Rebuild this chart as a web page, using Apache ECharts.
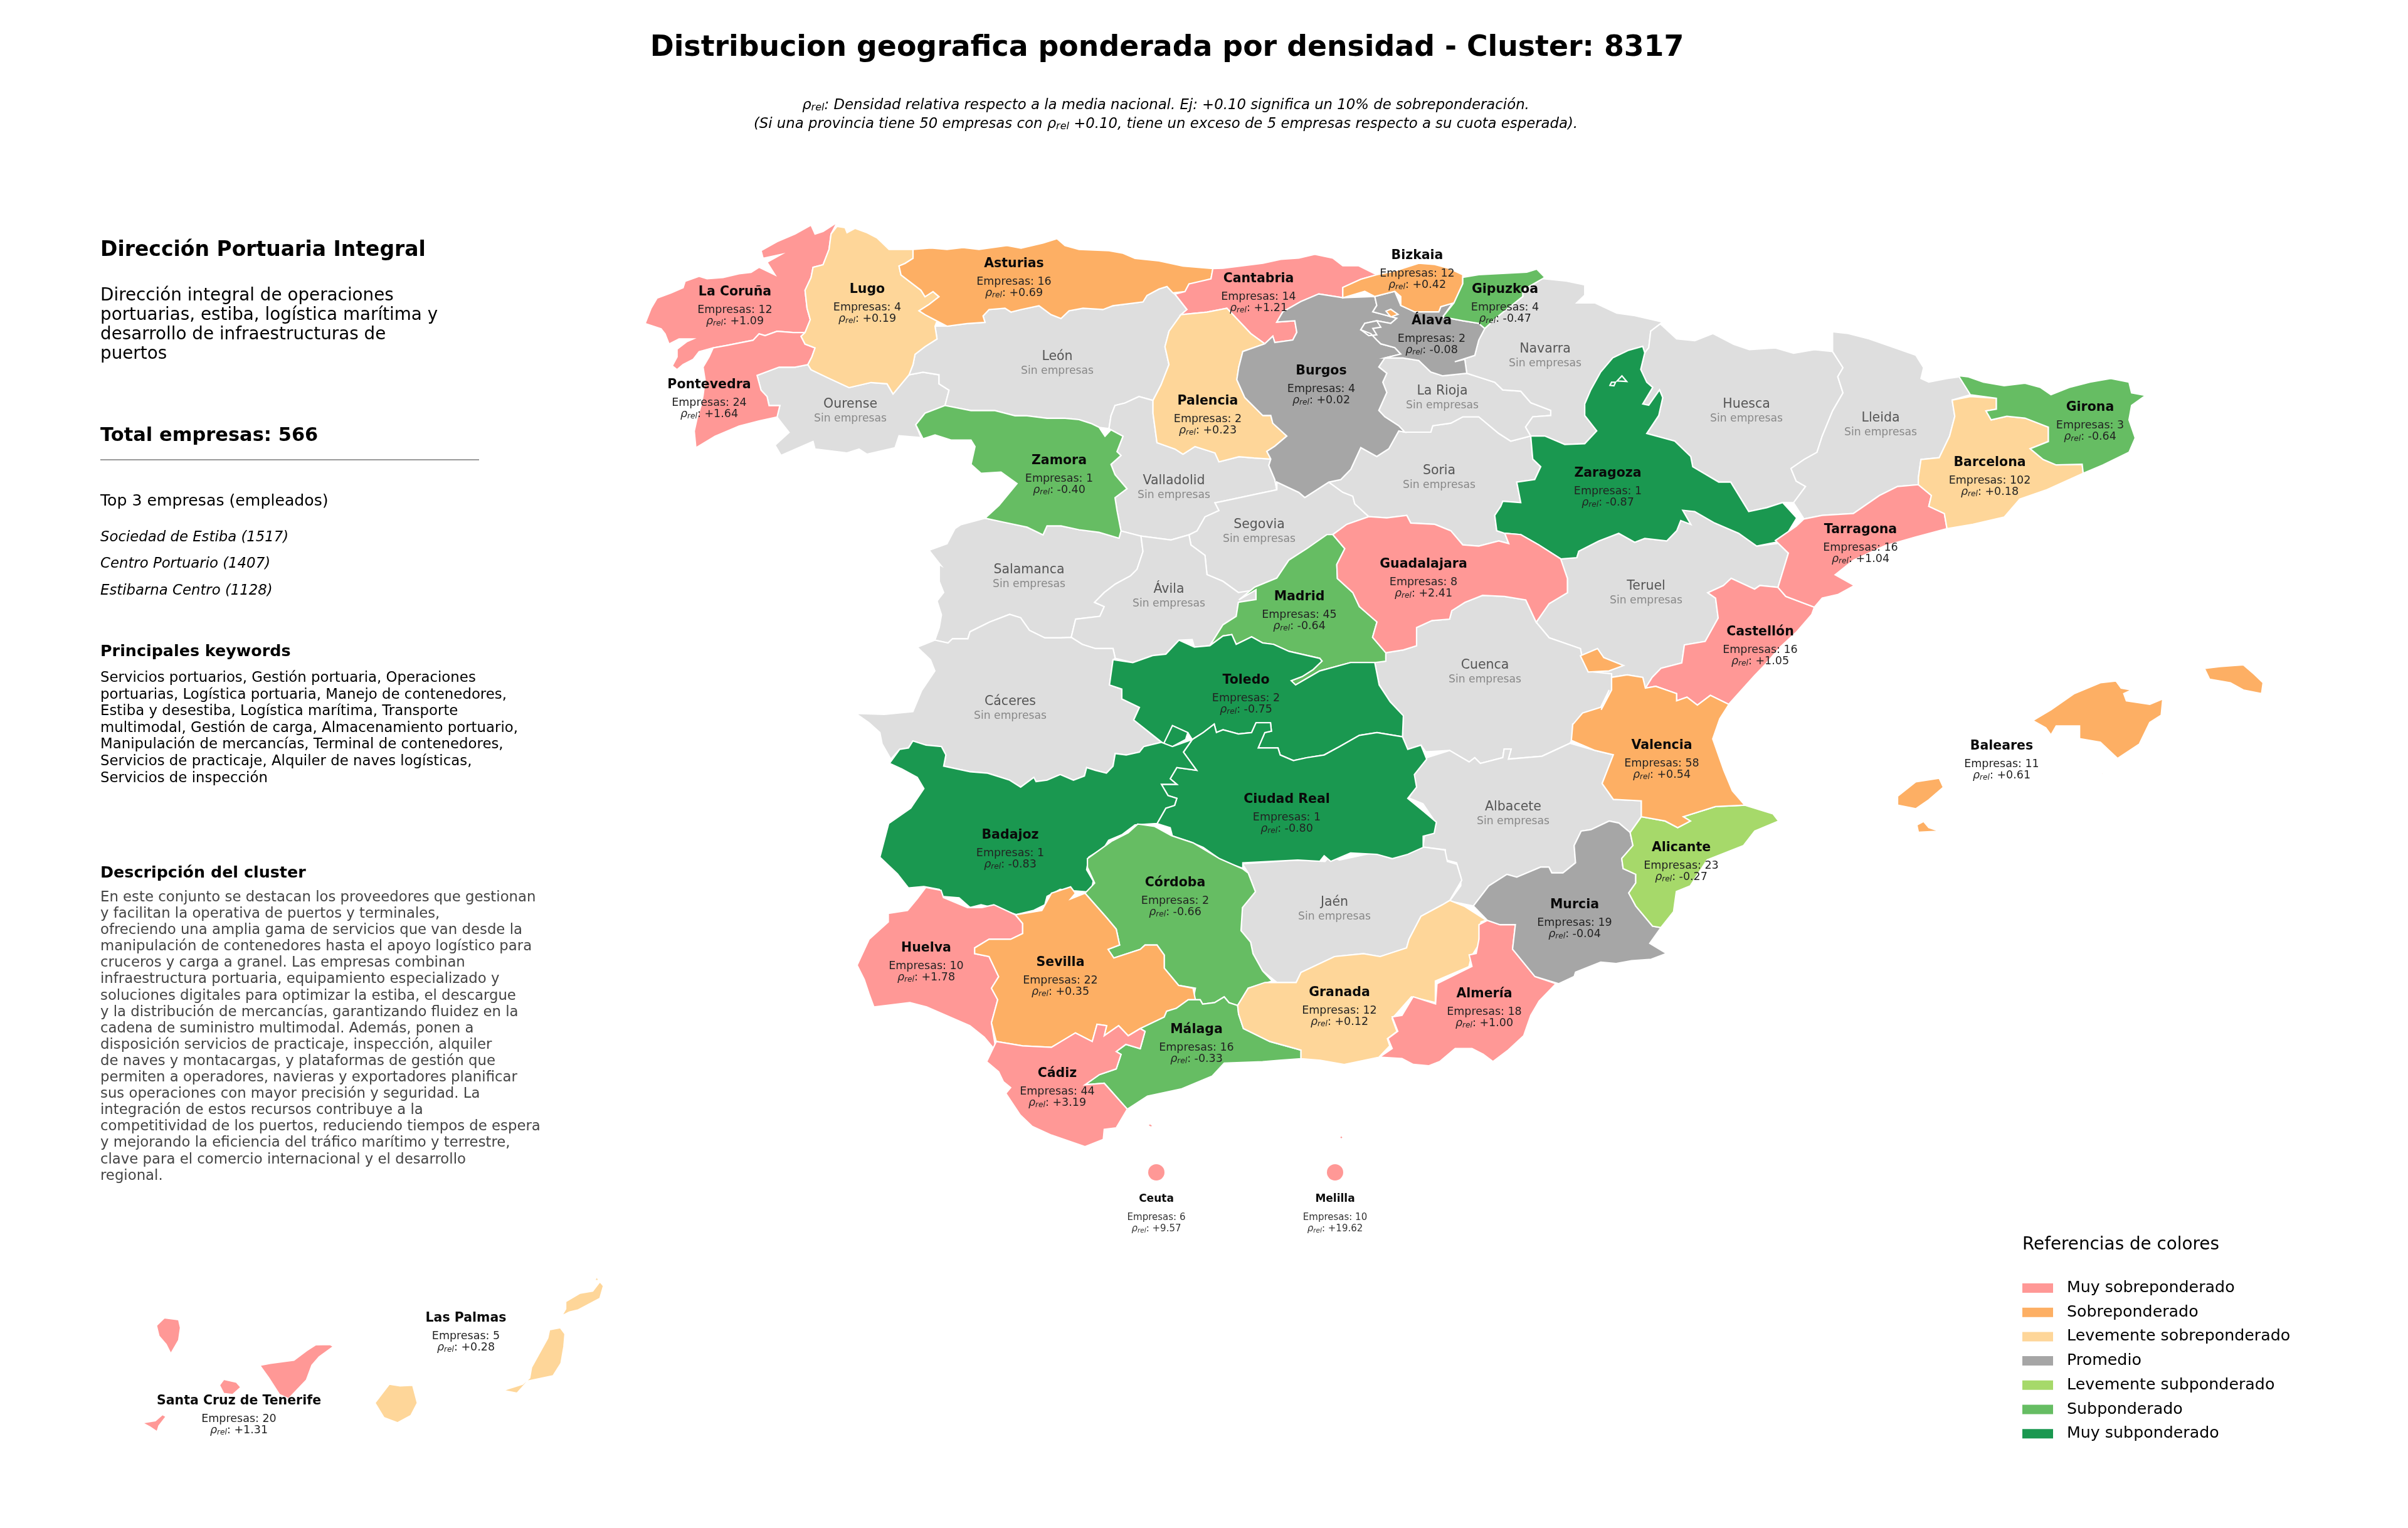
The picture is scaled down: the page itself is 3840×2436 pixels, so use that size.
<!DOCTYPE html>
<html><head><meta charset="utf-8">
<style>html,body{margin:0;padding:0;background:#fff}#c{width:3840px;height:2436px}</style>
<script src="https://cdn.jsdelivr.net/npm/echarts@6/dist/echarts.min.js"></script>
</head><body><div id="c"></div>
<script>
const FONT='"DejaVu Sans"';
// ---- data ----
const provinceNames=['La Coruña','Lugo','Asturias','Cantabria','Bizkaia','Gipuzkoa','Álava','Burgos','Palencia','Pontevedra','Zamora','Zaragoza','Girona','Barcelona','Tarragona','Castellón','Valencia','Alicante','Murcia','Almería','Granada','Málaga','Cádiz','Sevilla','Huelva','Córdoba','Badajoz','Ciudad Real','Toledo','Madrid','Guadalajara','Baleares','Las Palmas','Santa Cruz de Tenerife'];
const empresasValues=[12,4,16,14,12,4,2,4,2,24,1,1,3,102,16,16,58,23,19,18,12,16,44,22,10,2,1,1,2,45,8,11,5,20];
const rhoValues=[1.09,0.19,0.69,1.21,0.42,-0.47,-0.08,0.02,0.23,1.64,-0.40,-0.87,-0.64,0.18,1.04,1.05,0.54,-0.27,-0.04,1.00,0.12,-0.33,3.19,0.35,1.78,-0.66,-0.83,-0.80,-0.75,-0.64,2.41,0.61,0.28,1.31];
const labelAnchors=[[1172,466],[1383,462],[1617,421],[2007,445],[2260,408],[2400,462],[2283,512],[2107,592],[1926,640],[1131,614],[1689,735],[2564,755],[3333,650],[3173,738],[2967,845],[2807,1008],[2650,1189],[2681,1352],[2511,1443],[2367,1585],[2136,1583],[1908,1642],[1686,1712],[1691,1535],[1477,1512],[1874,1408],[1611,1332],[2052,1275],[1987,1085],[2072,952],[2270,900],[3192,1190],[743,2102],[381,2234]];
const emptyNames=['Ourense','León','Valladolid','Salamanca','Ávila','Segovia','Soria','La Rioja','Navarra','Huesca','Lleida','Teruel','Cuenca','Albacete','Jaén','Cáceres'];
const emptyAnchors=[[1356,645],[1686,569],[1872,767],[1641,909],[1864,940],[2008,837],[2295,751],[2300,624],[2464,557],[2785,645],[2999,667],[2625,935],[2368,1061],[2413,1287],[2128,1439],[1611,1119]];
const cityNames=['Ceuta','Melilla'];
const cityEmpresas=[6,10];
const cityRho=[9.57,19.62];
const cityDots=[[1844,1869],[2129,1869]];
const cityAnchors=[[1844,1911],[2129,1911]];
const tierLabels=['Muy sobreponderado','Sobreponderado','Levemente sobreponderado','Promedio','Levemente subponderado','Subponderado','Muy subponderado'];
const tierColors=['#FF9896','#FDAF64','#FED699','#A6A6A6','#A6D96A','#66BD63','#1A9850'];
const emptyColor='#DEDEDE';
const titleText='Distribucion geografica ponderada por densidad - Cluster: 8317';
const sideName='Dirección Portuaria Integral';
const sideIntro=['Dirección integral de operaciones','portuarias, estiba, logística marítima y','desarrollo de infraestructuras de','puertos'];
const sideTotal='Total empresas: 566';
const sideTopTitle='Top 3 empresas (empleados)';
const sideTop=['Sociedad de Estiba (1517)','Centro Portuario (1407)','Estibarna Centro (1128)'];
const sideKeywords=['Servicios portuarios, Gestión portuaria, Operaciones','portuarias, Logística portuaria, Manejo de contenedores,','Estiba y desestiba, Logística marítima, Transporte','multimodal, Gestión de carga, Almacenamiento portuario,','Manipulación de mercancías, Terminal de contenedores,','Servicios de practicaje, Alquiler de naves logísticas,','Servicios de inspección'];
const sideDesc=['En este conjunto se destacan los proveedores que gestionan','y facilitan la operativa de puertos y terminales,','ofreciendo una amplia gama de servicios que van desde la','manipulación de contenedores hasta el apoyo logístico para','cruceros y carga a granel. Las empresas combinan','infraestructura portuaria, equipamiento especializado y','soluciones digitales para optimizar la estiba, el descargue','y la distribución de mercancías, garantizando fluidez en la','cadena de suministro multimodal. Además, ponen a','disposición servicios de practicaje, inspección, alquiler','de naves y montacargas, y plataformas de gestión que','permiten a operadores, navieras y exportadores planificar','sus operaciones con mayor precisión y seguridad. La','integración de estos recursos contribuye a la','competitividad de los puertos, reduciendo tiempos de espera','y mejorando la eficiencia del tráfico marítimo y terrestre,','clave para el comercio internacional y el desarrollo','regional.'];

// ---- basemap: traced outlines, each vertex given in one of several tracing frames ----
const frames={1:[1000,320,1.568,2.45],2:[1950,340,1.568,2.45],3:[2400,480,1.206,1.742],4:[1340,900,1.4255,2.24],5:[1340,1300,1.3067,2.178],6:[2200,1100,2.24,2.178],7:[130,2000,1.742,3]};
const outlines={
'Ourense':['1|325,682 380,650 420,650 452,640 460,660 500,690 555,730 610,710 650,715 665,755 705,680 740,670 780,680 780,715 805,740 795,800 745,830 722,875 735,925 680,918 670,965 600,990 580,970 550,985 470,970 465,940 385,995 370,955 405,905 375,845 382,800 355,800 350,765 335,740'],
'León':['1|775,490 800,490 850,480 895,475 890,450 905,425 945,420 960,435 985,425 1030,410 1060,445 1085,460 1105,430 1140,420 1190,425 1215,410 1290,395 1300,370 1330,345 1350,335 1365,360 1370,365 1400,425 1385,445 1355,510 1345,570 1355,640 1335,720 1315,780 1280,765 1245,790 1220,800 1210,840 1205,890 1180,885 1160,870 1130,855 1095,850 1050,850 1000,840 970,840 920,820 860,820 795,800 805,740 780,715 780,680 740,670 705,680 715,640 720,600 745,570 775,540 770,490'],
'Valladolid':['1|1205,890 1210,840 1220,800 1245,790 1280,765 1315,780 1315,830 1325,945 1370,970 1390,990 1420,960 1470,985 1480,1020 1530,1000 1568,1005;2|120,960 115,985 130,1040 135,1080 90,1095 0,1125;1|1470,1180 1480,1210 1445,1235 1425,1290 1405,1305 1360,1325 1285,1310 1235,1290 1225,1210 1220,1160 1250,1125 1220,1070 1210,1030 1235,995 1225,980 1240,920 1210,895'],
'Segovia':['2|0,1125 90,1095 135,1080 135,1050 190,1090 205,1110 265,1050 300,1090 325,1105 330,1135 365,1185 310,1215 275,1255 210,1310 165,1355 135,1425 80,1460 40,1510;4|905,100 870,60;1|1450,1460 1445,1385 1410,1345 1405,1305 1425,1290 1445,1235 1480,1210 1470,1180'],
'Salamanca':['1|835,1265 895,1240 940,1255 1000,1275 1020,1290 1040,1305 1050,1270 1085,1270 1130,1285 1180,1295 1230,1318 1235,1290 1285,1310 1290,1370 1275,1440;4|660,40 625,70 600,100 578,135 600,150 590,185 535,195 525,260 500,262 465,262 430,235 410,190 385,178 340,205 295,240 290,265 255,265 245,280 215,270 225,225 230,180 220,130 235,100 225,60 225,0;1|785,1425 755,1365 800,1340 820,1280'],
'Ávila':['1|1285,1310 1360,1325 1405,1305 1410,1345 1445,1385 1450,1460;4|870,60 905,100 945,90 945,125 905,135 900,185 870,215 840,290 805,295 800,268 770,270 740,320 710,325 665,350 625,335 620,300 580,300 550,285 525,260 535,195 590,185 600,150 578,135 600,100 625,70 660,40;1|1275,1440 1290,1370'],
'Cáceres':['4|215,270 245,280 255,265 290,265 295,240 340,205 385,178 410,190 430,235 465,262 500,262 525,260 550,285 580,300 620,300 625,335 620,340 612,430 640,445 640,480 680,510 667,555 730,635 690,650 680,670 650,680 625,675 620,720 605,745 580,735 560,725 555,755 530,770 500,750 470,770 445,775 440,760 410,795 385,770 335,745 295,740 265,730 235,720 240,680 230,650 195,645 165,630 155,655 135,660 115,695 95,640 90,600 65,565 35,532 100,535 165,525 185,450 215,380 205,340 175,295'],
'Soria':['2|265,1050 295,1040 320,1000 345,915 385,950 415,920 440,850 455,855 520,855 525,830 570,820 600,795 640,795 690,860 720,890 770,870 775,960 795,990 780,1040 735,1050 745,1130 700,1125 695,1145 680,1180 685,1240 705,1250 715,1290 690,1280 640,1300 600,1295 570,1240 530,1215 470,1210 460,1180 410,1190 365,1185 330,1135 325,1105 300,1090'],
'La Rioja':['2|405,565 450,565 490,575 520,620 550,635 610,625 640,640 680,660 700,690 745,695 770,740 820,770 820,790 775,795 757,835 770,870 720,890 690,860 640,795 600,795 570,820 525,830 520,855 455,855 440,830 405,795 390,770 410,700 400,660 410,625 390,600'],
'Navarra':['2|800,255 860,265 905,280 905,320 885,350 930,350 985,390 1030,400 1100,425 1070,460 1065,525 1055,545 1050,520 1015,535 975,565 945,620 920,690 905,745 905,790 935,850 905,900 855,903 805,870 770,870 757,835 775,795 820,790 820,770 770,740 745,695 700,690 680,660 640,640 610,625 605,570 580,580 630,555 640,495 655,450 690,400 750,325 750,300'],
'Huesca':['2|1100,425 1070,460 1065,525 1055,545 1045,610 1060,660 1075,680 1050,745 1065,750 1092,690 1100,720 1090,790 1060,860 1130,890 1170,950 1175,990 1240,1050 1270,1050 1315,1165 1360,1150 1400,1130;3|555,560 578,515 560,500 550,465 575,440 600,420 610,375 630,305 650,255 640,210 650,185 630,140 595,135 555,145 520,130 470,135 440,120 400,90 365,110 330,105 300,65'],
'Lleida':['3|630,85 660,90 700,105 740,125 790,150 805,185 800,215 815,225 850,215 875,210 895,260 860,275 865,320 855,375 845,405 835,435 800,440 795,490 795,510 755,515 720,540 670,590 610,595 575,605 555,560 578,515 560,500 550,465 575,440 600,420 610,375 630,305 650,255 640,210 650,185 630,140'],
'Teruel':['2|845,1350 885,1345 890,1320 940,1280 990,1250 1030,1285 1055,1270 1110,1280 1135,1240 1145,1200 1170,1215 1150,1160 1180,1165 1230,1210 1290,1250 1335,1300 1385,1290;3|520,665 545,700 525,795 490,790 480,800 435,770 420,790 390,810 405,825 410,880 385,945 345,955 340,1005 300,1020 283,1045 270,1075 265,1045 235,1038 205,1045 205,1035 170,1030 150,1000 145,965 85,935 60,892 85,840 120,810 120,770 105,715'],
'Cuenca':['4|1240,315 1280,305 1310,290 1310,225 1345,200 1385,195 1390,165 1420,135 1460,110 1510,114;3|40,830 60,892 85,935 145,965 150,1000 170,1030 205,1035 205,1045 205,1080 185,1135 130,1175 130,1215;6|680,185 580,230 460,240 470,205 445,205 440,235 360,255 340,235 320,250 250,210 165,215;4|1320,645 1290,660 1278,615 1280,540 1250,490 1225,430 1215,350 1240,345'],
'Albacete':['6|168,235 250,210 320,250 340,235 360,255 440,235 445,205 470,205 460,240 580,230 680,185 770,210 835,225 795,325 835,380 935,385 935,440 895,495 855,462 820,455 755,485 720,490 695,540 700,600 655,635 615,635 605,615 575,615 490,650 455,640 390,680 335,750 250,733 290,680 290,650 275,600 235,590 235,555 155,545 160,510 200,460 155,395 105,375 130,330 120,295'],
'Jaén':['5|838,168 950,155 1010,160 1020,140 1040,155 1110,130 1150,150 1215,110 1260,120 1265,160 1285,170 1295,225 1270,295 1255,310 1210,350 1185,430 1180,460 1125,490 1090,480 1030,490 960,545 950,580 910,580 880,540 860,480 855,440 835,400 838,320 865,265 850,200'],
'La Coruña':['1|525,85 510,130 505,190 490,250 465,260 460,300 445,350 450,420 458,465 445,515 415,515 375,510 345,527 330,520 315,545 250,565 215,575 180,590 165,620 140,640 125,660 113,645 125,610 125,580 150,550 165,540 130,540 105,560 95,520 85,500 45,480 60,420 75,380 110,360 140,340 145,315 180,295 200,305 240,300 280,285 310,280 330,260 370,290 350,240 385,210 340,225 335,195 375,160 420,130 460,95 470,130 490,120'],
'Pontevedra':['1|445,515 435,530 445,560 470,575 462,610 452,640 420,650 380,650 325,682 335,740 350,765 355,800 382,800 375,845 330,860 280,880 220,920 172,965 168,900 175,850 185,800 190,760 195,700 190,650 205,610 215,575 250,565 315,545 330,520 345,527 375,510 415,515'],
'Lugo':['1|525,100 545,105 550,125 570,108 600,125 625,145 655,190 715,190 715,225 695,245 680,255 685,290 710,320 735,350 745,375 765,355 780,375 755,405 730,430 745,445 775,470 770,490 775,540 745,570 720,600 715,640 705,680 665,755 650,715 610,710 555,730 500,690 460,660 452,640 462,610 470,575 445,560 435,530 445,515 458,465 450,420 445,350 460,300 465,260 490,250 505,190 510,130'],
'Asturias':['1|715,190 760,185 800,190 840,183 880,190 950,175 985,185 1040,165 1075,148 1095,175 1130,190 1205,195 1240,205 1270,225 1330,235 1390,255 1465,265 1460,305 1430,320 1405,325 1395,355 1365,360 1350,335 1330,345 1300,370 1290,395 1215,410 1190,425 1140,420 1105,430 1085,460 1060,445 1030,410 985,425 960,435 945,420 905,425 890,450 895,475 850,480 800,490 775,470 745,445 730,430 755,405 780,375 765,355 745,375 735,350 710,320 685,290 680,255 695,245 715,225'],
'Cantabria':['2|-25,216 0,215 50,205 100,195 145,180 190,175 230,160 275,175 300,205 340,205 385,240 345,258 300,290 300,330 240,315 195,345 150,385 135,425 180,420 185,465 175,495 130,505 125,480 105,510 70,470 10,371;1|1450,435 1385,445 1400,425 1370,365 1395,355 1405,325 1460,305'],
'Palencia':['1|1385,445 1450,435 1500,420;2|70,470 105,510 50,540 40,600 35,650 55,720 100,790 120,790 125,820 160,870 130,910 110,930 120,960 78,956;1|1530,1000 1480,1020 1470,985 1420,960 1390,990 1370,970 1325,945 1315,830 1315,780 1335,720 1355,640 1345,570 1355,510'],
'Zamora':['1|795,800 860,820 920,820 970,840 1000,840 1050,850 1095,850 1130,855 1160,870 1180,885 1195,920 1210,895 1240,920 1225,980 1235,995 1210,1030 1220,1070 1250,1125 1220,1160 1225,1210 1235,1290 1230,1318 1180,1295 1130,1285 1085,1270 1050,1270 1040,1305 1020,1290 1000,1275 940,1255 895,1240 930,1190 975,1105 935,1060 885,1065 860,1030 870,960 860,935 810,935 770,915 740,930 722,875 745,830'],
'Burgos':['2|135,425 150,385 195,345 240,315 300,330 380,325 385,360 375,385 400,395 435,410 420,430 385,420 355,430 345,455 370,470 385,495 395,510 430,525 445,550 405,565 390,600 410,625 400,660 410,700 390,770 405,795 440,830 455,855 440,850 415,920 385,950 345,915 320,1000 295,1040 265,1050 205,1110 190,1090 135,1050 135,1080 130,1040 115,985 120,960 110,930 130,910 160,870 125,820 120,790 100,790 55,720 35,650 40,600 50,540 105,510 125,480 130,505 175,495 185,465 180,420'],
'Álava':['2|380,325 430,305 445,360 480,385 540,385 545,365 575,350 550,405 600,420 640,430 655,450 640,495 630,555 580,580 605,570 610,625 550,635 520,620 490,575 450,565 405,565 445,550 430,525 395,510 385,495 370,470 345,455 355,430 385,420 420,430 435,410 400,395 375,385 385,360','2|355,430 385,420 395,445 375,450 385,475 365,478 345,455'],
'Bizkaia':['2|300,290 345,258 385,240 430,225 490,195 530,200 565,215 600,240 600,275 578,350 545,365 540,385 480,385 445,360 445,325 430,305 380,325 355,305 300,330','2|408,382 420,375 438,395 420,405'],
'Gipuzkoa':['2|600,250 640,240 700,235 760,230 785,218 805,250 800,255 750,300 750,325 690,400 655,450 640,430 600,420 550,405 578,350 600,275'],
'Zaragoza':['2|770,870 805,870 855,903 905,900 935,850 905,790 905,745 920,690 945,620 975,565 1015,535 1050,520 1055,545 1045,610 1060,660 1075,680 1050,745 1065,750 1092,690 1100,720 1090,790 1060,860 1130,890 1170,950 1175,990 1240,1050 1270,1050 1315,1165 1360,1150 1400,1130 1435,1190 1400,1280 1335,1300 1290,1250 1230,1210 1180,1165 1150,1160 1170,1215 1145,1200 1135,1240 1110,1280 1055,1270 1030,1285 990,1250 940,1280 890,1320 885,1345 845,1350 790,1295 745,1255 705,1250 685,1240 680,1180 695,1145 700,1125 745,1130 735,1050 780,1040 795,990 775,960','2|986,655 998,635 1010,657','2|968,672 972,660 982,660 978,674'],
'Madrid':['2|260,1255 275,1255 305,1310 285,1372;4|1130,50 1165,100 1180,150 1220,205 1210,260 1240,315 1240,345 1215,350 1160,350 1090,380 1035,430 1025,415 1050,400 1075,375 1095,345 1090,335 1020,310 985,285 960,280 935,258 900,285 890,250 870,255 840,290 870,215 900,185 905,135 945,125 945,90;2|40,1510 80,1460 135,1425 165,1355 210,1310'],
'Guadalajara':['2|275,1255 310,1215 365,1185 410,1190 460,1180 470,1210 530,1215 570,1240 600,1295 640,1300 690,1280 715,1290 705,1250 745,1255 790,1295 845,1350;3|120,770 120,810 85,840 60,892 40,830;4|1510,114 1460,110 1420,135 1390,165 1385,195 1345,200 1310,225 1310,290 1280,305 1240,315 1210,260 1220,205 1180,150 1165,100 1130,50;2|285,1372 305,1310'],
'Toledo':['4|620,340 665,350 710,325 740,320 770,270 805,295 840,290 870,255 890,250 900,285 935,258 960,280 985,285 1020,310 1090,335 1095,345 1075,375 1050,400 1025,415 1035,430 1090,380 1160,350 1215,350 1225,430 1250,490 1280,540 1278,615 1220,600 1180,610 1135,650 1100,680 1060,690 1030,700 1000,680 995,655 950,655 965,600 980,595 978,565 945,565 935,600 905,605 870,590 855,600 850,570 825,600 800,625 790,600 755,575 735,640 667,555 680,510 640,480 640,445 612,430','4|735,640 755,575 790,600 785,625 755,650'],
'Ciudad Real':['4|800,625 825,600 850,570 855,600 870,590 905,605 935,600 945,565 978,565 980,595 965,600 950,655 995,655 1000,680 1030,700 1060,690 1100,680 1135,650 1180,610 1220,600 1278,615 1290,660 1320,645 1333,695 1305,750 1310,795 1290,835 1325,880 1355,920 1350,960 1325,970 1325,1010 1290,1035 1255,1050 1220,1035 1160,1030 1115,1060 1100,1040 1090,1060 1040,1055 915,1065 915,1085 870,1060 825,1010 795,990 755,970 750,940 720,925 740,870 760,860 765,835 745,825 730,785 765,785 750,765 765,725 810,735 780,670'],
'Badajoz':['4|165,630 195,645 230,650 240,680 235,720 265,730 295,740 335,745 385,770 410,795 440,760 445,775 470,770 500,750 530,770 555,755 560,725 580,735 605,745 620,720 625,675 650,680 680,670 690,650 730,635 755,650 800,625 780,670 810,735 765,725 750,765 765,785 730,785 745,825 765,835 760,860 740,870 720,925 670,930 640,965 610,985 600,1010 565,1045 560,1090 575,1130 570,1170 530,1165 500,1160 470,1185 465,1215 440,1235 400,1250 360,1230 320,1215 295,1225 270,1190 230,1185 225,1160 190,1150 155,1155 130,1105 90,1045 110,925 160,870 190,800 175,760 140,730 112,710 135,660 155,655'],
'Córdoba':['5|620,30 655,38 690,70 735,95 790,150 838,185 850,200 865,265 838,320 835,400 855,440 860,480 880,540 900,575 850,600 828,660 810,650 800,630 780,650 755,655 750,640 735,640 740,600 705,590 675,530 675,485 660,450 635,450 625,465 570,495 558,465 582,450 575,395 555,355 510,270 530,235 515,180 515,150 565,90 600,60'],
'Huelva':['5|178,250 210,260 215,285 265,320 295,320 320,310 365,345 380,375 380,410 355,430 310,430 280,460 280,480 310,490 330,560 315,600 328,640 315,720 325,820 300,770 270,730 180,665 145,650 70,665 60,620 50,570 35,520 60,430 100,370 100,340 140,330 160,290'],
'Sevilla':['5|365,345 420,330 440,270 480,248 490,270 480,290 510,270 555,355 575,395 582,450 558,465 570,495 625,465 635,450 660,450 675,485 675,530 705,590 735,600 740,640 725,640 700,670 680,680 675,700 625,740 600,765 580,730 550,765 555,730 535,725 525,785 490,755 440,805 380,800 325,785 315,720 328,640 315,600 330,560 310,490 280,480 280,460 310,430 355,430 380,410 380,375'],
'Málaga':['5|725,640 750,640 755,655 780,650 800,630 810,650 828,660 830,690 840,740 895,785 960,815 960,845 915,850 880,855 800,860 775,905 710,950 640,975 598,1020 550,930 510,935 540,900 575,880 585,830 575,820 595,795 625,810 635,750 625,740 675,700 680,680 700,670'],
'Cádiz':['5|325,785 380,800 440,805 490,755 525,785 535,725 555,730 550,765 580,730 600,765 625,740 635,750 625,810 595,795 575,820 585,830 575,880 540,900 510,935 550,930 598,1020 575,1085 550,1090 548,1125 510,1150 440,1110 400,1080 375,1040 345,965 355,945 340,925 330,890 305,855'],
'Granada':['5|828,660 850,600 885,580 950,580 960,545 1030,490 1090,480 1125,490 1180,460 1185,430 1210,350 1255,310 1270,295 1300,315 1346,364 1335,370 1330,450 1315,490 1310,525 1240,575 1240,650 1190,630 1150,705 1160,750 1140,775 1145,800 1122,840 1050,865 1000,850 960,845 960,815 895,785 840,740 830,690'],
'Almería':['6|385,800 430,815 485,815 475,900 555,995 630,1020 570,1080 540,1130 515,1200 460,1250 405,1290 370,1265 330,1245 270,1245 215,1290 175,1305 120,1300 80,1280 0,1275 45,1245 30,1210 65,1185 45,1135 80,1130 120,1065 200,1090 205,1020 330,960 320,920 345,915 355,865 355,815'],
'Murcia':['6|335,750 390,680 455,640 490,650 575,615 605,615 615,635 655,635 700,600 695,540 720,490 755,485 820,455 855,462 895,495 905,540 865,585 870,620 915,640 915,670 890,705 915,750 975,820 1005,825 965,880 1025,915 970,935 900,940 845,950 790,945 700,980 695,995 640,1020 555,995 475,900 485,815 430,815 385,800'],
'Alicante':['6|935,440 1020,455 1065,478 1110,455 1085,440 1200,405 1305,400 1405,430 1425,455 1340,490 1300,540 1170,590 1110,680 1060,700 1050,770 1005,825 975,820 915,750 890,705 915,670 915,640 870,620 865,585 905,540 895,495'],
'Castellón':['3|390,810 420,790 435,770 480,800 490,790 525,795 540,820 595,850 590,870 560,920 530,960 500,1010 480,1040 430,1120 395,1095 370,1122 350,1100 330,1110 330,1090 290,1070 270,1075 283,1045 300,1020 340,1005 345,955 385,945 410,880 405,825'],
'Valencia':['3|205,1045 235,1038 265,1045 270,1075 290,1070 330,1090 330,1110 350,1100 370,1122 395,1095;6|1248,50 1215,100 1190,170 1230,280 1260,350 1305,400 1200,405 1085,440 1110,455 1065,478 1020,455 935,440 935,385 835,380 795,325 835,225 770,210 685,175 690,120 725,80 790,60 820,0;3|185,1135 205,1080','3|145,985 178,965 190,990 228,1012 200,1027 160,1030'],
'Tarragona':['3|575,605 610,595 670,590 720,540 755,515 795,510 820,540 815,570 845,590 850,632 790,655 730,680 670,720 635,760 672,790 640,815 610,825 595,850 540,820 525,795 545,700 520,665 560,625'],
'Barcelona':['3|860,275 895,265 945,270 945,300 925,305 935,330 965,320 1000,325 1045,350 1045,390 1010,410 1035,440 1060,455 1110,453 1112,478 1040,525 990,550 960,600 900,620 850,632 845,590 815,570 820,540 795,510 795,490 800,440 835,435 845,405 855,375 865,320'],
'Girona':['3|872,207 890,210 920,225 960,235 1000,228 1030,240 1050,260 1085,240 1125,225 1165,215 1200,225 1205,255 1232,262 1205,290 1200,330 1212,380 1200,420 1150,455 1112,478 1110,453 1060,455 1035,440 1010,410 1045,390 1045,350 1000,325 965,320 935,330 925,305 945,300 945,270 895,260'],
'Baleares':['3|1015,1165 1050,1135 1095,1090 1145,1060 1175,1055 1185,1075 1205,1080 1190,1090 1195,1110 1240,1120 1265,1105 1262,1150 1240,1170 1220,1230 1178,1270 1145,1225 1105,1215 1105,1180 1060,1180 1050,1205 1040,1185','3|1345,1020 1375,1015 1420,1010 1440,1035 1458,1060 1455,1090 1420,1080 1395,1060 1355,1050','3|755,1375 790,1335 835,1325 843,1350 815,1385 790,1410 755,1400','3|792,1455 805,1445 815,1462 835,1472 795,1475','3|1145,1313 1150,1310 1152,1316'],
'Santa Cruz de Tenerife':['7|208,340 230,303 270,312 275,350 270,410 248,475 235,430 215,390','7|495,530 525,520 590,505 625,460 650,432 690,430 700,440 660,490 640,530 625,600 575,690 550,670 520,590','7|383,625 395,597 430,610 443,635 420,670 395,665','7|168,805 205,795 225,765 235,775 215,820 210,848 190,825'],
'Las Palmas':['7|815,710 855,620 885,628 920,625 933,710 915,770 878,805 840,780','7|1170,650 1225,620 1245,590 1250,540 1295,400 1300,360 1330,350 1343,380 1340,440 1332,520 1310,580 1240,605 1210,663','7|1333,295 1345,260 1345,225 1385,185 1420,175 1440,130 1450,150 1440,210 1380,265 1355,275','7|1425,125 1432,105 1437,125'],
'Ceuta':['5|640,1075 646,1070 653,1080 646,1082'],
'Melilla':['5|1040,1118 1044,1111 1048,1118 1044,1125']
};
function decode(path){
  const pts=[];
  path.split(';').forEach(seg=>{
    const [f,list]=seg.split('|');const F=frames[f];
    list.trim().split(/\s+/).forEach(s=>{
      const [x,y]=s.split(',').map(Number);
      pts.push([F[0]+x/F[2],2436-(F[1]+y/F[3])]);
    });
  });
  pts.push(pts[0].slice());
  return [pts];
}
const geoJson={type:'FeatureCollection',features:Object.keys(outlines).map(n=>({type:'Feature',properties:{name:n},geometry:{type:'MultiPolygon',coordinates:outlines[n].map(decode)}}))};
echarts.registerMap('esp',geoJson);

function tier(r){return r>=1?0:r>=0.3?1:r>=0.1?2:r>-0.1?3:r>-0.3?4:r>-0.7?5:6;}
function fmtRho(r){return (r>=0?'+':'')+r.toFixed(2);}
const g=a=>[a[0],2436-a[1]];

const regionColors=provinceNames.map((n,i)=>({name:n,itemStyle:{areaColor:tierColors[tier(rhoValues[i])]}}))
  .concat(emptyNames.map(n=>({name:n,itemStyle:{areaColor:emptyColor}})))
  .concat(cityNames.map((n,i)=>({name:n,itemStyle:{areaColor:tierColors[tier(cityRho[i])]}})));

const richMain={
  n:{fontFamily:FONT,fontWeight:'bold',fontSize:20.5,lineHeight:37.5,color:'#0a0a0a'},
  e:{fontFamily:FONT,fontSize:17.5,lineHeight:18.5,color:'#222'},
  r:{fontFamily:FONT,fontStyle:'italic',fontSize:17.5,lineHeight:18.5,color:'#222'},
  s:{fontFamily:FONT,fontStyle:'italic',fontSize:12.2,lineHeight:18.5,color:'#222',verticalAlign:'bottom'}
};
const richSmall={
  n:{fontFamily:FONT,fontWeight:'bold',fontSize:17,lineHeight:40,color:'#0a0a0a'},
  e:{fontFamily:FONT,fontSize:15,lineHeight:18,color:'#333'},
  r:{fontFamily:FONT,fontStyle:'italic',fontSize:15,lineHeight:18,color:'#333'},
  s:{fontFamily:FONT,fontStyle:'italic',fontSize:10.5,lineHeight:18,color:'#333',verticalAlign:'bottom'}
};
const richEmpty={
  n:{fontFamily:FONT,fontSize:20.5,lineHeight:28,color:'#555'},
  e:{fontFamily:FONT,fontSize:17.2,lineHeight:18,color:'#888'}
};
const lbl=(name,emp,r)=>`{n|${name}}\n{e|Empresas: ${emp}}\n{r|ρ}{s|rel}{e|: ${fmtRho(r)}}`;
const solid={opacity:1};

const series=[
 {type:'scatter',name:'Ciudades',coordinateSystem:'geo',silent:true,symbol:'circle',symbolSize:26,itemStyle:{color:tierColors[0],opacity:1},
  data:cityDots.map((d,i)=>({name:cityNames[i],value:g(d)}))},
 {type:'scatter',name:'EtiquetasActivas',coordinateSystem:'geo',silent:true,symbolSize:0,z:5,itemStyle:solid,
  data:provinceNames.map((n,i)=>{const a=labelAnchors[i];return {name:n,value:[a[0],2436-(a[1]+18.5)],label:{formatter:lbl(n,empresasValues[i],rhoValues[i])}};}),
  label:{show:true,position:'inside',align:'center',verticalAlign:'middle',rich:richMain}},
 {type:'scatter',name:'EtiquetasCiudades',coordinateSystem:'geo',silent:true,symbolSize:0,z:5,itemStyle:solid,
  data:cityNames.map((n,i)=>{const a=cityAnchors[i];return {name:n,value:[a[0],2436-(a[1]+19)],label:{formatter:lbl(n,cityEmpresas[i],cityRho[i])}};}),
  label:{show:true,position:'inside',align:'center',verticalAlign:'middle',rich:richSmall}},
 {type:'scatter',name:'EtiquetasVacias',coordinateSystem:'geo',silent:true,symbolSize:0,z:5,itemStyle:solid,
  data:emptyNames.map((n,i)=>{const a=emptyAnchors[i];return {name:n,value:[a[0],2436-(a[1]+9)],label:{formatter:`{n|${n}}\n{e|Sin empresas}`}};}),
  label:{show:true,position:'inside',align:'center',verticalAlign:'middle',rich:richEmpty}}
].concat(tierLabels.map((t,i)=>({type:'scatter',name:t,coordinateSystem:'geo',silent:true,data:[],itemStyle:{color:tierColors[i],opacity:1}})));

const T=(x,y,text,font,fill)=>({type:'text',silent:true,style:{x,y,text,font:font+' '+FONT,fill:fill||'#000',textAlign:'left',textVerticalAlign:'middle'}});
const els=[];
els.push(T(160,399,sideName,'bold 33px'));
sideIntro.forEach((t,i)=>els.push(T(160,472+i*31,t,'27.8px')));
els.push(T(160,695,sideTotal,'bold 30.5px'));
els.push({type:'line',silent:true,shape:{x1:160,y1:733,x2:764,y2:733},style:{stroke:'#999',lineWidth:2}});
els.push(T(160,799,sideTopTitle,'25.2px'));
sideTop.forEach((t,i)=>els.push(T(160,857+i*42.5,t,'italic 22.8px')));
els.push(T(160,1039,'Principales keywords','bold 25.4px'));
sideKeywords.forEach((t,i)=>els.push(T(160,1081+i*26.6,t,'22.85px')));
els.push(T(160,1392,'Descripción del cluster','bold 25.4px'));
sideDesc.forEach((t,i)=>els.push(T(160,1431+i*26.1,t,'22.8px','#444')));
els.push(T(3225,1985,'Referencias de colores','27.8px'));
const subRich={i:{font:'italic 22.8px '+FONT,color:'#000'},s:{font:'italic 16px '+FONT,color:'#000',verticalAlign:'bottom'}};
[['{i|ρ}{s|rel}{i|: Densidad relativa respecto a la media nacional. Ej: +0.10 significa un 10% de sobreponderación.}',168],
 ['{i|(Si una provincia tiene 50 empresas con ρ}{s|rel}{i| +0.10, tiene un exceso de 5 empresas respecto a su cuota esperada).}',198]].forEach(([t,y])=>{
  els.push({type:'text',silent:true,style:{x:1859,y,text:t,rich:subRich,textAlign:'center',textVerticalAlign:'middle',fill:'#000'}});
});

const chart=echarts.init(document.getElementById('c'),null,{renderer:'canvas',width:3840,height:2436,devicePixelRatio:1});
chart.setOption({
  animation:false,backgroundColor:'#fff',
  title:{text:titleText,left:1856,top:49,textAlign:'center',textStyle:{fontFamily:FONT,fontWeight:'bold',fontSize:45.8,color:'#000'}},
  legend:{data:tierLabels,orient:'vertical',left:3225,top:2041,padding:0,itemWidth:49,itemHeight:15,itemGap:13.7,icon:'rect',selectedMode:false,
    textStyle:{fontFamily:FONT,fontSize:25.3,color:'#000',padding:[0,0,0,17]}},
  tooltip:{show:false},
  geo:{map:'esp',boundingCoords:[[0,2436],[3840,0]],left:0,top:0,width:3840,height:2436,aspectScale:1,roam:false,silent:true,
    label:{show:false},itemStyle:{areaColor:emptyColor,borderColor:'#fff',borderWidth:2.2},emphasis:{disabled:true},regions:regionColors},
  series,
  graphic:{elements:els}
});
</script></body></html>
